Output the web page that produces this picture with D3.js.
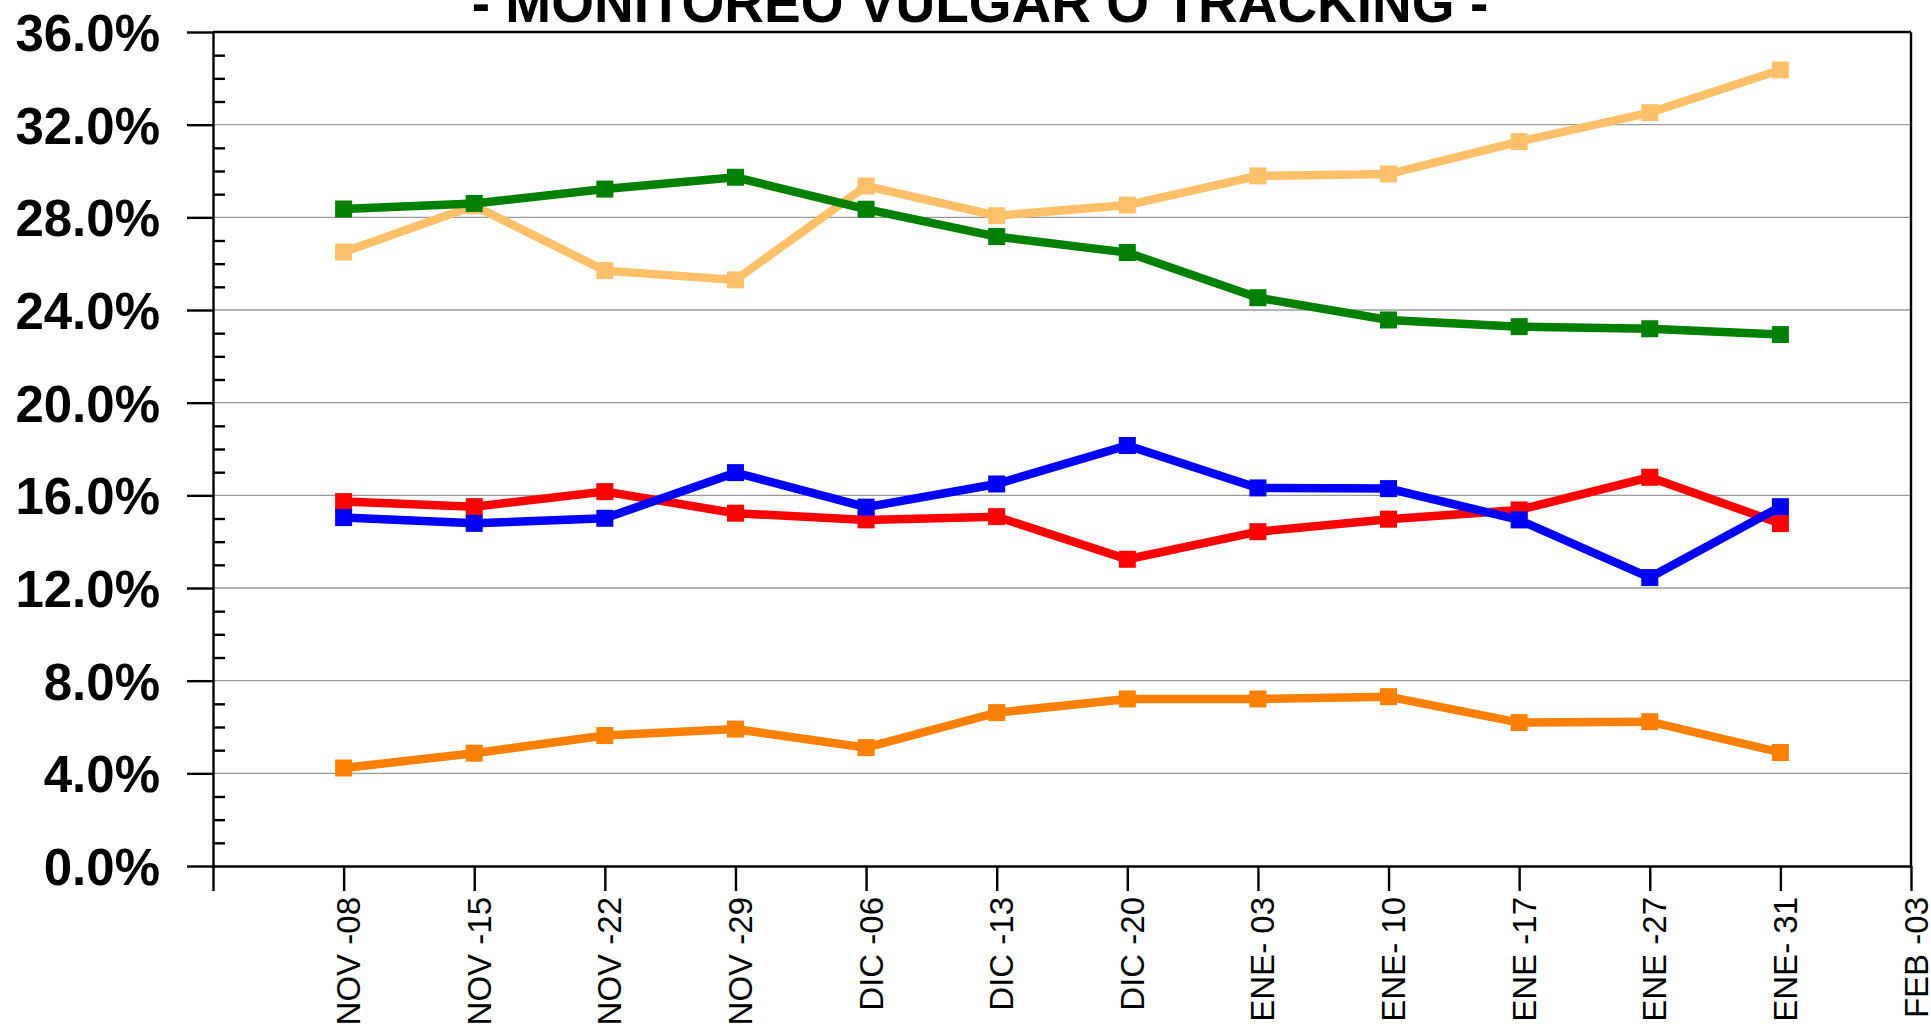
<!DOCTYPE html>
<html>
<head>
<meta charset="utf-8">
<script src="https://cdn.jsdelivr.net/npm/d3@7"></script>
<style>
  html, body { margin: 0; padding: 0; background: #fff; overflow: hidden; }
  svg { display: block; font-family: "Liberation Sans", Arial, sans-serif; }
</style>
</head>
<body>
<svg id="chart" width="1931" height="1029"></svg>
<script>
const title = "- MONITOREO VULGAR O TRACKING -";
const categories = ["NOV -08","NOV -15","NOV -22","NOV -29","DIC -06","DIC -13","DIC -20","ENE- 03","ENE- 10","ENE -17","ENE -27","ENE- 31","FEB -03"];
const yTicks = [0, 4, 8, 12, 16, 20, 24, 28, 32, 36];

const seriesLightOrange = [26.5, 28.5, 25.7, 25.3, 29.35, 28.07, 28.53, 29.79, 29.87, 31.27, 32.52, 34.36];
const seriesOrange      = [4.23, 4.87, 5.63, 5.91, 5.11, 6.62, 7.21, 7.21, 7.31, 6.19, 6.23, 4.90];
const seriesRed         = [15.73, 15.51, 16.16, 15.23, 14.94, 15.08, 13.24, 14.43, 14.97, 15.37, 16.78, 14.78];
const seriesBlue        = [15.04, 14.79, 15.01, 16.98, 15.49, 16.49, 18.15, 16.32, 16.29, 14.94, 12.45, 15.51];
const seriesGreen       = [28.36, 28.6, 29.22, 29.73, 28.35, 27.17, 26.48, 24.53, 23.57, 23.28, 23.19, 22.94];

const series = [
  { values: seriesLightOrange, color: "#FFC069" },
  { values: seriesOrange,      color: "#FF8000" },
  { values: seriesRed,         color: "#FF0000" },
  { values: seriesBlue,        color: "#0000FF" },
  { values: seriesGreen,       color: "#008000" }
];

const svg = d3.select("#chart");
const x = d3.scaleLinear().domain([0, categories.length]).range([213, 1911]);
const y = d3.scaleLinear().domain([0, 36]).range([866, 32]);

// gridlines
svg.append("g").selectAll("line")
  .data(yTicks.filter(v => v > 0 && v < 36))
  .join("line")
  .attr("x1", x(0)).attr("x2", x(categories.length))
  .attr("y1", d => y(d)).attr("y2", d => y(d))
  .attr("stroke", "#9a9a9a").attr("stroke-width", 1.3);

// top and right borders
svg.append("line").attr("x1", x(0)).attr("x2", x(categories.length))
  .attr("y1", y(36)).attr("y2", y(36)).attr("stroke", "#000").attr("stroke-width", 2.4);
svg.append("line").attr("x1", x(categories.length)).attr("x2", x(categories.length))
  .attr("y1", y(36)).attr("y2", y(0)).attr("stroke", "#000").attr("stroke-width", 2.4);

// minor y ticks (inside)
const minorVals = d3.range(1, 36).filter(v => v % 4 !== 0);
const minorAxis = svg.append("g").attr("transform", `translate(${x(0)},0)`)
  .call(d3.axisRight(y).tickValues(minorVals).tickSize(12).tickFormat(""));
minorAxis.select(".domain").remove();
minorAxis.selectAll("line").attr("stroke", "#000").attr("stroke-width", 2.4);

// major y axis
const yAxis = svg.append("g").attr("transform", `translate(${x(0)},0)`)
  .call(d3.axisLeft(y).tickValues(yTicks).tickSize(26).tickSizeOuter(0).tickPadding(27)
    .tickFormat(d => d.toFixed(1) + "%"));
yAxis.select(".domain").attr("stroke", "#000").attr("stroke-width", 2.4);
yAxis.selectAll("line").attr("stroke", "#000").attr("stroke-width", 2.4);
yAxis.selectAll("text")
  .attr("font-family", "'Liberation Sans', Arial, sans-serif")
  .attr("font-size", 51).attr("font-weight", "bold").attr("fill", "#000")
  .attr("dy", "0.36em");

// x axis
const xAxis = svg.append("g").attr("transform", `translate(0,${y(0)})`)
  .call(d3.axisBottom(x).tickValues(d3.range(0, categories.length + 1)).tickSize(25).tickSizeOuter(0)
    .tickFormat(i => i === 0 ? "" : categories[i - 1]));
xAxis.select(".domain").attr("stroke", "#000").attr("stroke-width", 2.4);
xAxis.selectAll("line").attr("stroke", "#000").attr("stroke-width", 2.4);
xAxis.selectAll("text")
  .attr("font-family", "'Liberation Sans', Arial, sans-serif")
  .attr("font-size", 33).attr("fill", "#000")
  .attr("transform", "rotate(-90)")
  .attr("x", -31).attr("y", 16).attr("dy", 0)
  .style("text-anchor", "end");

// series
const line = d3.line().x((d, i) => x(i + 1)).y(d => y(d));
const ms = 17;
series.forEach(s => {
  const g = svg.append("g");
  g.append("path").datum(s.values)
    .attr("d", line).attr("fill", "none")
    .attr("stroke", s.color).attr("stroke-width", 8.5).attr("stroke-linejoin", "miter");
  g.selectAll("rect").data(s.values).join("rect")
    .attr("x", (d, i) => x(i + 1) - ms / 2)
    .attr("y", d => y(d) - ms / 2)
    .attr("width", ms).attr("height", ms)
    .attr("fill", s.color);
});

// title
svg.append("text").attr("x", 980).attr("y", 22)
  .attr("text-anchor", "middle").attr("font-size", 55).attr("font-weight", "bold")
  .attr("fill", "#000").text(title);
</script>
</body>
</html>
